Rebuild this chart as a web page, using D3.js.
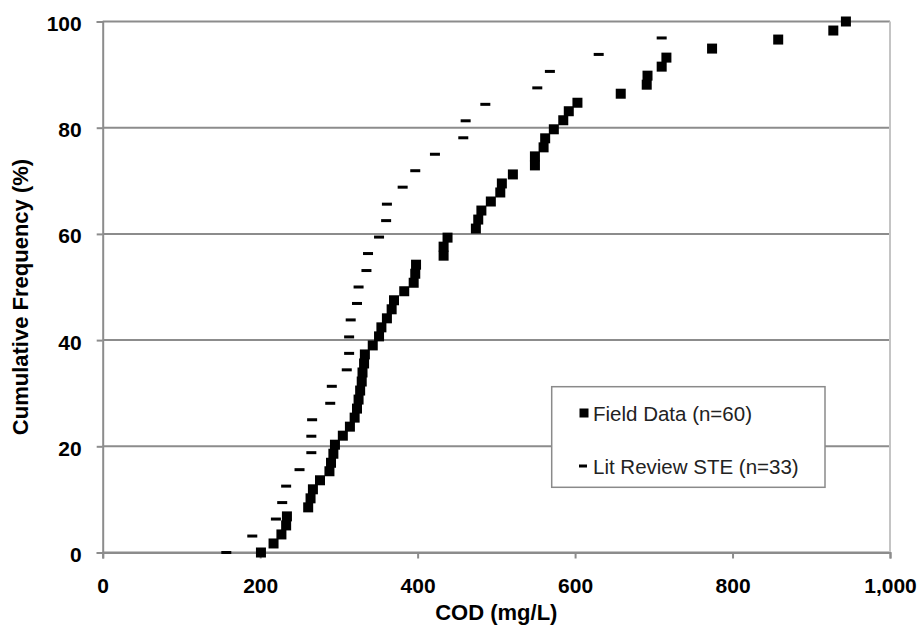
<!DOCTYPE html>
<html>
<head>
<meta charset="utf-8">
<script src="https://cdn.jsdelivr.net/npm/d3@7"></script>
<style>
  html, body { margin: 0; padding: 0; background: #fff; }
  svg { display: block; font-family: "Liberation Sans", Arial, Helvetica, sans-serif; }
</style>
</head>
<body>
<svg id="chart" width="922" height="626"></svg>
<script>
// Cumulative frequency of COD concentrations
const xTicks = [0, 200, 400, 600, 800, 1000];
const yTicks = [0, 20, 40, 60, 80, 100];

// Field data (n=60): COD (mg/L) and cumulative frequency (%)
const fieldCOD = [201, 217, 227, 233, 234, 261, 264, 267, 276, 288,
                  290, 293, 295, 305, 314, 320, 323, 325, 327, 329,
                  330, 332, 333, 343, 351, 354, 361, 367, 370, 383,
                  395, 397, 398, 433, 433, 438, 474, 477, 481, 493,
                  505, 507, 521, 549, 549, 560, 562, 573, 585, 592,
                  603, 658, 691, 692, 710, 716, 774, 858, 928, 944];
const fieldPct = [0, 1.7, 3.4, 5.1, 6.8, 8.5, 10.2, 11.9, 13.6, 15.3,
                  16.9, 18.6, 20.3, 22.0, 23.7, 25.4, 27.1, 28.8, 30.5, 32.2,
                  33.9, 35.6, 37.3, 39.0, 40.7, 42.4, 44.1, 45.8, 47.5, 49.2,
                  50.8, 52.5, 54.2, 55.9, 57.6, 59.3, 61.0, 62.7, 64.4, 66.1,
                  67.8, 69.5, 71.2, 72.9, 74.6, 76.3, 78.0, 79.7, 81.4, 83.1,
                  84.7, 86.4, 88.1, 89.8, 91.5, 93.2, 94.9, 96.6, 98.3, 100];

// Literature review septic tank effluent (n=33)
const litCOD = [157, 190, 220, 228, 233, 250, 265, 265, 266, 289,
                291, 310, 313, 313, 315, 323, 325, 335, 337, 351,
                360, 361, 381, 397, 422, 458, 461, 486, 552, 568,
                630, 710];
const litPct = [0, 3.1, 6.3, 9.4, 12.5, 15.6, 18.8, 21.9, 25.0, 28.1,
                31.3, 34.4, 37.5, 40.6, 43.8, 46.9, 50.0, 53.1, 56.3, 59.4,
                62.5, 65.6, 68.8, 71.9, 75.0, 78.1, 81.3, 84.4, 87.5, 90.6,
                93.8, 96.9];

const seriesNames = ["Field Data (n=60)", "Lit Review STE (n=33)"];

const svg = d3.select("#chart");
const plotLeft = 102.7, plotRight = 890, plotTop = 21.5, plotBottom = 552.5;

const x = d3.scaleLinear().domain([0, 1000]).range([plotLeft, plotRight]);
const y = d3.scaleLinear().domain([0, 100]).range([plotBottom, plotTop]);

const gridColor = "#8c8c8c";

// horizontal gridlines
svg.append("g")
  .selectAll("line")
  .data(yTicks)
  .join("line")
  .attr("x1", plotLeft).attr("x2", plotRight)
  .attr("y1", d => y(d)).attr("y2", d => y(d))
  .attr("stroke", gridColor).attr("stroke-width", 2);

// right border of the plot area
svg.append("line")
  .attr("x1", plotRight).attr("x2", plotRight)
  .attr("y1", plotTop).attr("y2", plotBottom)
  .attr("stroke", "#c4c4c4").attr("stroke-width", 2);

// y axis
const yAxis = svg.append("g")
  .attr("transform", `translate(${plotLeft},0)`)
  .call(d3.axisLeft(y).tickValues(yTicks).tickSize(6).tickPadding(15).tickFormat(d3.format("d")));
yAxis.select(".domain").attr("stroke", gridColor).attr("stroke-width", 2);
yAxis.selectAll(".tick line").attr("stroke", gridColor).attr("stroke-width", 2);
yAxis.selectAll(".tick text")
  .attr("dy", "0.43em")
  .attr("fill", "#000")
  .style("font-size", "21px").style("font-weight", "bold")
  .style("font-family", "'Liberation Sans', Arial, sans-serif");

// x axis
const xAxis = svg.append("g")
  .attr("transform", `translate(0,${plotBottom})`)
  .call(d3.axisBottom(x).tickValues(xTicks).tickSize(6).tickPadding(20).tickFormat(d3.format(",")));
xAxis.select(".domain").attr("stroke", gridColor).attr("stroke-width", 2);
xAxis.selectAll(".tick line").attr("stroke", gridColor).attr("stroke-width", 2);
xAxis.selectAll(".tick text")
  .attr("fill", "#000")
  .style("font-size", "21px").style("font-weight", "bold")
  .style("font-family", "'Liberation Sans', Arial, sans-serif");

// axis titles
svg.append("text")
  .attr("transform", `translate(28,297) rotate(-90)`)
  .attr("text-anchor", "middle")
  .style("font-size", "22px").style("font-weight", "bold")
  .text("Cumulative Frequency (%)");

svg.append("text")
  .attr("x", (plotLeft + plotRight) / 2).attr("y", 620)
  .attr("text-anchor", "middle")
  .style("font-size", "22px").style("font-weight", "bold")
  .text("COD (mg/L)");

// literature review points (dash markers)
const litData = litCOD.map((v, i) => ({ v, p: litPct[i] }));
svg.append("g")
  .selectAll("rect")
  .data(litData)
  .join("rect")
  .attr("x", d => x(d.v) - 5).attr("y", d => y(d.p) - 1.5)
  .attr("width", 10).attr("height", 3)
  .attr("fill", "#000");

// field data points (square markers)
const fieldData = fieldCOD.map((v, i) => ({ v, p: fieldPct[i] }));
svg.append("g")
  .selectAll("rect")
  .data(fieldData)
  .join("rect")
  .attr("x", d => x(d.v) - 5).attr("y", d => y(d.p) - 5)
  .attr("width", 10).attr("height", 10)
  .attr("fill", "#000");

// legend
const legend = svg.append("g");
legend.append("rect")
  .attr("x", 551.7).attr("y", 386.7)
  .attr("width", 273.3).attr("height", 100.6)
  .attr("fill", "#fff").attr("stroke", "#8a8a8a").attr("stroke-width", 1.5);
legend.append("rect")
  .attr("x", 579.5).attr("y", 408.5).attr("width", 9).attr("height", 9)
  .attr("fill", "#000");
legend.append("rect")
  .attr("x", 579).attr("y", 464.5).attr("width", 8).attr("height", 3)
  .attr("fill", "#000");
legend.selectAll("text.item")
  .data(seriesNames)
  .join("text")
  .attr("class", "item")
  .attr("x", 593).attr("y", (d, i) => 420.5 + i * 53.5)
  .style("font-size", "20.5px")
  .attr("fill", "#222")
  .text(d => d);
</script>
</body>
</html>
